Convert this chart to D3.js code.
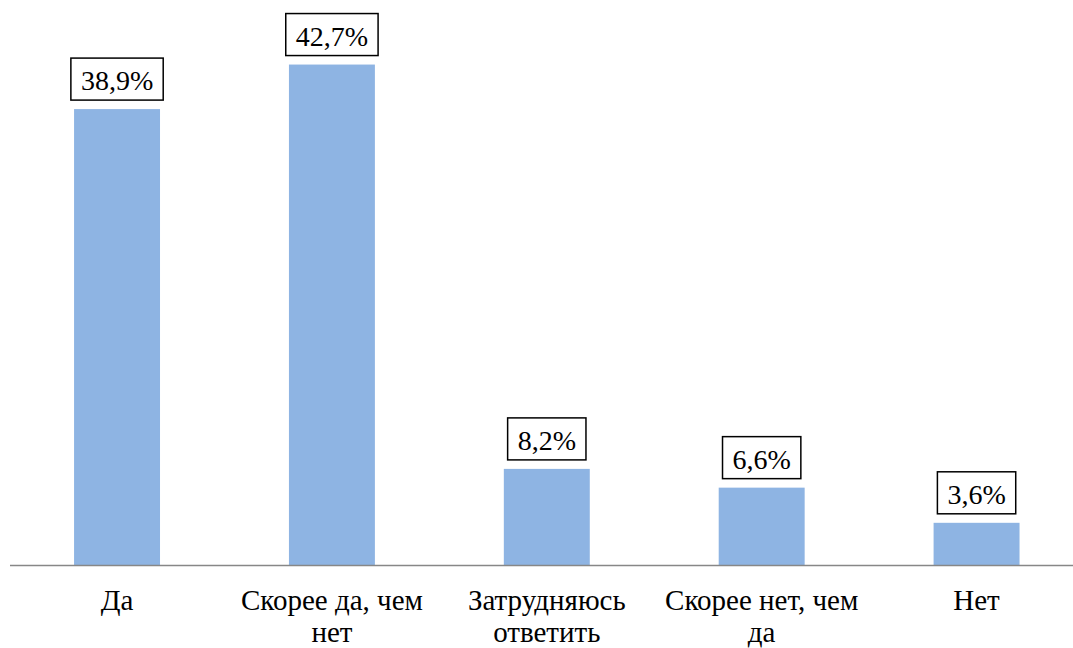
<!DOCTYPE html>
<html>
<head>
<meta charset="utf-8">
<script src="https://cdn.jsdelivr.net/npm/d3@7"></script>
</head>
<body style="margin:0">
<script>
// data
const categories = ["Да", "Скорее да, чем нет", "Затрудняюсь ответить", "Скорее нет, чем да", "Нет"];
const catLines = [["Да"], ["Скорее да, чем", "нет"], ["Затрудняюсь", "ответить"], ["Скорее нет, чем", "да"], ["Нет"]];
const values = [38.9, 42.7, 8.2, 6.6, 3.6];

const width = 1073, height = 648;
const baseY = 565;
const fam = "Times New Roman, Liberation Serif, serif";

const svg = d3.select("body").append("svg")
    .attr("width", width)
    .attr("height", height)
    .attr("font-family", fam);

const x = d3.scaleBand()
    .domain(categories)
    .range([9.6, 1084])
    .paddingInner(0.6)
    .paddingOuter(0.3);

const y = d3.scaleLinear()
    .domain([0, 45])
    .range([baseY, 37.6]);

const cx = i => x(categories[i]) + x.bandwidth() / 2;
const fmt = d => d3.format(".1f")(d).replace(".", ",") + "%";

// bars
svg.selectAll("rect.bar")
    .data(values)
    .join("rect")
    .attr("class", "bar")
    .attr("x", (d, i) => x(categories[i]))
    .attr("y", d => y(d))
    .attr("width", x.bandwidth())
    .attr("height", d => baseY - y(d))
    .attr("fill", "#8EB4E3");

// axis line
svg.append("line")
    .attr("x1", 10).attr("x2", width)
    .attr("y1", baseY + 0.5).attr("y2", baseY + 0.5)
    .attr("stroke", "#878787")
    .attr("stroke-width", 1.5);

// label boxes, sized from the text width
const boxes = svg.selectAll("rect.box")
    .data(values)
    .join("rect")
    .attr("class", "box")
    .attr("fill", "#fff")
    .attr("stroke", "#000")
    .attr("stroke-width", 1.5);

const labels = svg.selectAll("text.val")
    .data(values)
    .join("text")
    .attr("class", "val")
    .attr("text-anchor", "middle")
    .attr("x", (d, i) => cx(i))
    .attr("y", d => y(d) - 19)
    .attr("font-family", fam)
    .attr("font-size", 28)
    .text(fmt);

labels.each(function (d, i) {
    const w = this.getComputedTextLength() + 20;
    d3.select(boxes.nodes()[i])
        .attr("x", cx(i) - w / 2)
        .attr("y", y(d) - 9 - 42)
        .attr("width", w)
        .attr("height", 42);
});

// category labels, one text per line
const catData = catLines.flatMap((lines, i) => lines.map((t, j) => ({ t, i, j })));
svg.selectAll("text.cat")
    .data(catData)
    .join("text")
    .attr("class", "cat")
    .attr("text-anchor", "middle")
    .attr("x", d => cx(d.i))
    .attr("y", d => 610 + d.j * 32)
    .attr("font-family", fam)
    .attr("font-size", 29)
    .text(d => d.t);
</script>
</body>
</html>
